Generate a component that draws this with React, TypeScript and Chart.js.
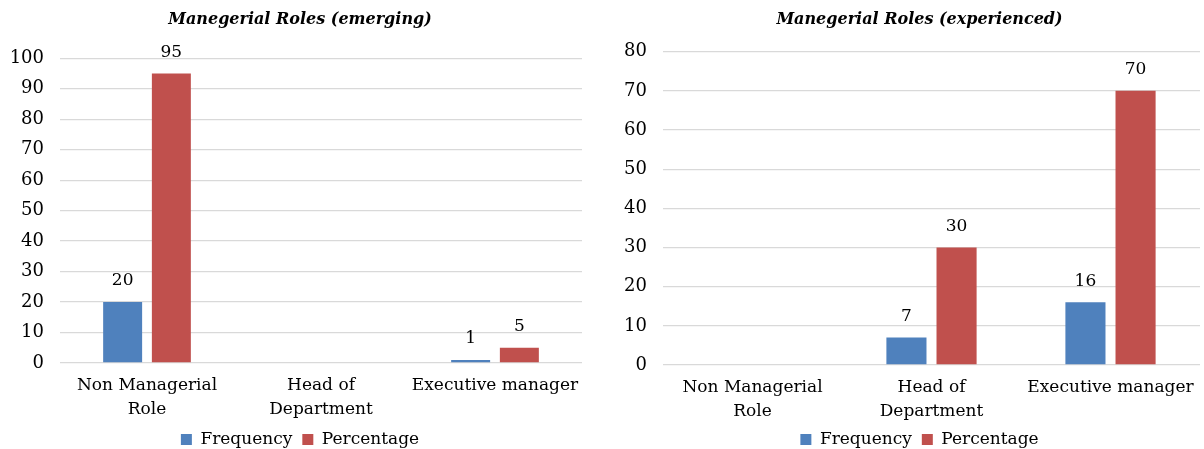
import React, { useEffect, useRef } from 'react';
import { Chart, registerables } from 'chart.js';

Chart.register(...registerables);

const categories: (string | string[])[] = [['Non Managerial', 'Role'], ['Head of', 'Department'], 'Executive manager'];
const seriesNames = ['Frequency', 'Percentage'];
const seriesColors = ['#4F81BD', '#C0504D'];

const emergingFrequency = [20, null, 1];
const emergingPercentage = [95, null, 5];
const experiencedFrequency = [null, 7, 16];
const experiencedPercentage = [null, 30, 70];

const emergingTitle = 'Manegerial Roles (emerging)';
const experiencedTitle = 'Manegerial Roles (experienced)';
const emergingMax = 100;
const experiencedMax = 80;
const tickStep = 10;

const FONT = "'DejaVu Serif', serif";
const TEXT = '#000000';
const Y_TICK_FONT_SIZE = 18;
const Y_LABEL_GAP = 16;

function measureWidest(max: number): number {
  const ctx = document.createElement('canvas').getContext('2d');
  if (!ctx) return 0;
  ctx.font = `${Y_TICK_FONT_SIZE}px ${FONT}`;
  let w = 0;
  for (let v = 0; v <= max; v += tickStep) w = Math.max(w, ctx.measureText(String(v)).width);
  return w;
}

const valueLabels = {
  id: 'valueLabels',
  afterDatasetsDraw(chart: any) {
    const ctx = chart.ctx;
    ctx.save();
    ctx.font = `17px ${FONT}`;
    ctx.fillStyle = TEXT;
    ctx.textAlign = 'center';
    ctx.textBaseline = 'middle';
    chart.data.datasets.forEach((ds: any, i: number) => {
      const meta = chart.getDatasetMeta(i);
      meta.data.forEach((bar: any, j: number) => {
        const v = ds.data[j];
        if (v === null || v === undefined) return;
        ctx.fillText(String(v), bar.x, bar.y - 21);
      });
    });
    ctx.restore();
  },
};

interface Layout {
  titleBottom: number;
  padL: number;
  padR: number;
  yWidth: number;
  xHeight: number;
}

function makeConfig(title: string, freq: (number | null)[], pct: (number | null)[], max: number, lay: Layout): any {
  const widest = measureWidest(max);
  return {
    type: 'bar',
    data: {
      labels: categories,
      datasets: [
        { label: seriesNames[0], data: freq, backgroundColor: seriesColors[0], categoryPercentage: 0.56, barPercentage: 0.8 },
        { label: seriesNames[1], data: pct, backgroundColor: seriesColors[1], categoryPercentage: 0.56, barPercentage: 0.8 },
      ],
    },
    options: {
      responsive: false,
      animation: false,
      layout: { padding: { left: lay.padL, right: lay.padR, top: 0, bottom: 0 } },
      plugins: {
        title: {
          display: true,
          text: title,
          color: TEXT,
          font: { family: FONT, size: 16, weight: 'bold', style: 'italic', lineHeight: 1.2 },
          padding: { top: 10.4, bottom: lay.titleBottom },
        },
        legend: {
          position: 'bottom',
          labels: {
            color: TEXT,
            boxWidth: 11,
            boxHeight: 11,
            padding: 10,
            font: { family: FONT, size: 17 },
          },
        },
        tooltip: { enabled: false },
      },
      scales: {
        x: {
          grid: { display: false, drawTicks: false },
          border: { display: false },
          ticks: { color: TEXT, padding: 10.4, font: { family: FONT, size: 17, lineHeight: 1.4 }, maxRotation: 0, autoSkip: false },
          afterFit(scale: any) {
            scale.height = lay.xHeight;
            scale.paddingLeft = 0;
            scale.paddingRight = 0;
          },
        },
        y: {
          min: 0,
          max,
          grid: { color: '#D9D9D9', lineWidth: 1.3, drawTicks: false },
          border: { display: false },
          ticks: {
            stepSize: tickStep,
            color: TEXT,
            mirror: true,
            crossAlign: 'far',
            padding: -(widest + Y_LABEL_GAP),
            font: { family: FONT, size: Y_TICK_FONT_SIZE },
          },
          afterFit(scale: any) {
            scale.width = lay.yWidth;
          },
        },
      },
    },
    plugins: [valueLabels],
  };
}

function ChartCanvas({ config, left, width, height }: { config: any; left: number; width: number; height: number }) {
  const ref = useRef<HTMLCanvasElement>(null);
  useEffect(() => {
    if (!ref.current) return;
    const chart = new Chart(ref.current, config);
    return () => chart.destroy();
  }, [config]);
  return (
    <canvas
      ref={ref}
      width={width}
      height={height}
      style={{ position: 'absolute', left, top: 0, width, height }}
    />
  );
}

const leftConfig = makeConfig(emergingTitle, emergingFrequency, emergingPercentage, emergingMax, {
  titleBottom: 28.7, padL: 18, padR: 16, yWidth: 42, xHeight: 58,
});
const rightConfig = makeConfig(experiencedTitle, experiencedFrequency, experiencedPercentage, experiencedMax, {
  titleBottom: 22.1, padL: 35, padR: 4, yWidth: 24, xHeight: 56,
});

export default function App() {
  return (
    <div style={{ position: 'fixed', left: 0, top: 0, width: 1204, height: 449, overflow: 'hidden', background: '#fff' }}>
      <ChartCanvas config={leftConfig} left={0} width={598} height={458} />
      <ChartCanvas config={rightConfig} left={604} width={600} height={458} />
    </div>
  );
}
